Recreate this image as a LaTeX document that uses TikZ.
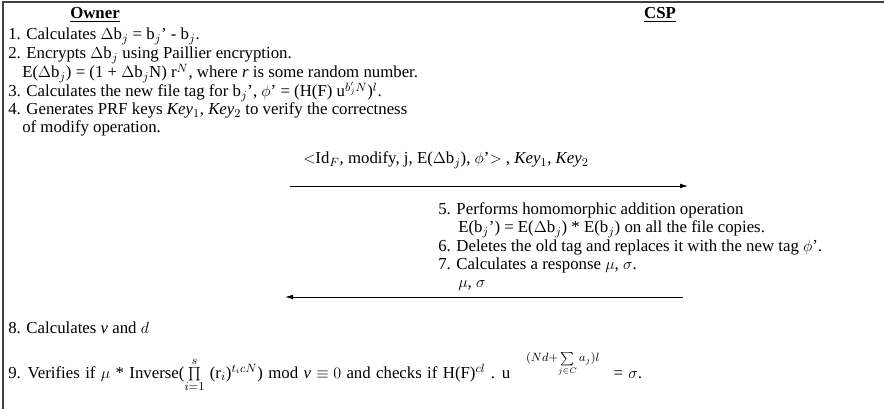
\documentclass[tikz,border=0pt]{standalone}
\usepackage{fontspec}
\setmainfont{Liberation Serif}
\usetikzlibrary{arrows.meta}
\begin{document}
\begin{tikzpicture}[x=0.75pt,y=-0.75pt,
  txt/.style={anchor=base west,inner sep=0pt,font=\fontsize{12.6}{14}\selectfont},
  hdr/.style={anchor=base,inner sep=0pt,font=\fontsize{12.6}{14}\selectfont\bfseries},
  msg/.style={line width=0.7pt,-{Latex[length=6pt,width=3.6pt]}},
  frame/.style={line width=0.8pt,draw=black!75}]
\useasboundingbox (0,0) rectangle (884,409);
\draw[frame] (3,409) -- (3,2) -- (884,2);
\node[hdr] (owner) at (95,19) {\underline{Owner}};
\node[hdr] (csp) at (660,19) {\underline{CSP}};
\node[txt] (l1) at (8,40) {1. Calculates $\Delta$b$_j$ = b$_j$' - b$_j$.};
\node[txt] (l2) at (8,59) {2. Encrypts $\Delta$b$_j$ using Paillier encryption.};
\node[txt] (l2b) at (22,78) {E($\Delta$b$_j$) = (1 + $\Delta$b$_j$N) r$^N$, where \textit{r} is some random number.};
\node[txt] (l3) at (8,97) {3. Calculates the new file tag for b$_j$', $\phi$' = (H(F) u$^{b'_jN}$)$^l$.};
\node[txt] (l4) at (8,115) {4. Generates PRF keys \textit{Key}$_1$, \textit{Key}$_2$ to verify the correctness};
\node[txt] (l4b) at (22,133) {of modify operation.};
\node[txt] (m1) at (303,164) {$<$Id$_F$, modify, j, E($\Delta$b$_j$), $\phi$'$>$ , \textit{Key}$_1$, \textit{Key}$_2$};
\coordinate (a1s) at (290,186);
\coordinate (a1e) at (688,186);
\draw[msg] (a1s) -- (a1e);
\node[txt] (l5) at (438,215) {5. Performs homomorphic addition operation};
\node[txt] (l5b) at (458,233) {E(b$_j$') = E($\Delta$b$_j$) * E(b$_j$) on all the file copies.};
\node[txt] (l6) at (438,252) {6. Deletes the old tag and replaces it with the new tag $\phi$'.};
\node[txt] (l7) at (438,270) {7. Calculates a response $\mu$, $\sigma$.};
\node[txt] (m2) at (458,288) {$\mu$, $\sigma$};
\coordinate (a2s) at (683,297);
\coordinate (a2e) at (285,297);
\draw[msg] (a2s) -- (a2e);
\node[txt] (l8) at (8,333) {8. Calculates \textit{v} and $d$};
\node[txt] (l9) at (8,378) {\spaceskip=0.32em plus 0.1em\relax 9. Verifies if $\mu$ * Inverse($\prod\limits_{i=1}^{s}$ (r$_i$)$^{t_icN}$) mod \textit{v} $\equiv0$ and checks if H(F)$^{cl}$ . u$^{\hspace{12pt}(Nd+\sum\limits_{j\in C} a_j)l}$\hspace{6pt} = $\sigma$.};
\end{tikzpicture}
\end{document}
